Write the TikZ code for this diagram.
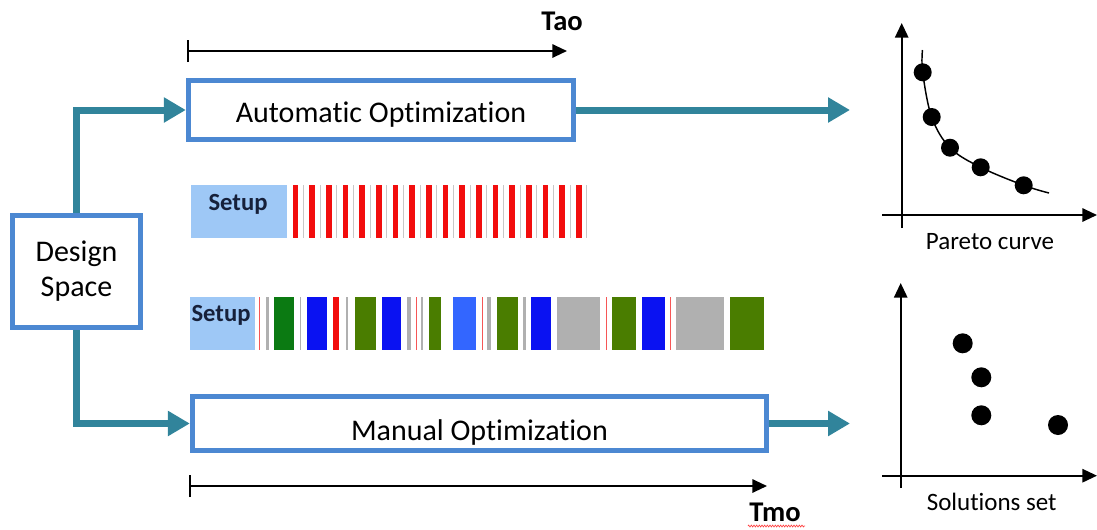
\documentclass[tikz,border=0pt]{standalone}
\usepackage{fontspec}
\setmainfont[Ligatures=NoCommon]{Carlito}
\usetikzlibrary{arrows.meta, positioning, calc, decorations.pathmorphing}
\definecolor{flowteal}{HTML}{31849B}
\definecolor{boxblue}{HTML}{4C88D2}
\definecolor{setupblue}{HTML}{9EC8F6}
\definecolor{setupink}{HTML}{16203A}
\definecolor{runred}{HTML}{F20D0D}
\definecolor{rungreen}{HTML}{0B7A12}
\definecolor{runolive}{HTML}{4A7D00}
\definecolor{runblue}{HTML}{0A12F2}
\definecolor{runsky}{HTML}{3366FF}
\definecolor{rungray}{HTML}{B0B0B0}
\tikzset{
    optbox/.style={rectangle, draw=boxblue, line width=4pt, fill=white, inner sep=2pt, font=\fontsize{22.5}{27}\selectfont},
    setupbar/.style={rectangle, fill=setupblue, inner sep=0pt, anchor=north west},
    setuptext/.style={font=\bfseries\fontsize{18.5}{22}\selectfont, text=setupink, anchor=base, inner sep=0pt},
    timetext/.style={font=\bfseries\fontsize{21.4}{25}\selectfont, anchor=base, inner sep=0pt},
    plottext/.style={font=\fontsize{18.75}{22}\selectfont, anchor=base, inner sep=0pt},
    flowarrow/.style={draw=flowteal, line width=5.25pt, -{Triangle[length=16.5pt, width=18pt]}},
    timearrow/.style={line width=1.5pt, {Bar[width=16.5pt]}-{Triangle[length=11pt, width=10pt]}},
    plotaxis/.style={line width=1.5pt, -{Triangle[length=11pt, width=10pt]}}
}

\begin{document}
\begin{tikzpicture}[x=0.75pt, y=-0.75pt]
    \useasboundingbox (0,0) rectangle (1097,529);

    % design space and the two optimization flows
    \node[optbox, minimum width=96pt, minimum height=84pt, align=center, font=\fontsize{22.5}{26.25}\selectfont] (design) at (76.5,271.5) {Design\\Space};
    \node[optbox, minimum width=288.75pt, minimum height=44.25pt, text height=18pt, text depth=0pt] (auto) at (381,110) {Automatic Optimization};
    \node[optbox, minimum width=430.5pt, minimum height=40.5pt, text height=24.75pt, text depth=0pt] (manual) at (479.5,423.5) {Manual Optimization};
    \coordinate (paretoIn) at (850,110);
    \coordinate (solIn) at (850,423.5);

    \draw[flowarrow] (design.north) |- (auto.west);
    \draw[flowarrow] (design.south) |- (manual.west);
    \draw[flowarrow] (auto.east) -- (paretoIn);
    \draw[flowarrow] (manual.east) -- (solIn);

    % time axes
    \draw[timearrow] (187,51) -- (567,51);
    \node[timetext] (tao) at (562,30) {Tao};
    \draw[timearrow] (189,486) -- (767,486);
    \node[timetext] (tmo) at (775,521) {Tmo};
    \draw[red!75, line width=0.5pt, decorate, decoration={zigzag, segment length=2pt, amplitude=0.7pt}] (748,526) -- (805,526);

    % automatic runs
    \node[setupbar, minimum width=72pt, minimum height=39.75pt] (setupA) at (191,185) {};
    \node[setuptext] (setupAlbl) at (238,210) {Setup};
    \foreach \k in {0,...,17}{
        \fill[runred] ({292.7+16.67*\k},185) rectangle ++(5.7,53);
        \draw[rungray!70, line width=0.6pt] ({303.3+16.67*\k},185) -- ++(0,53);
    }

    % manual runs
    \node[setupbar, minimum width=48.75pt, minimum height=39.75pt] (setupB) at (190,297) {};
    \node[setuptext] (setupBlbl) at (221,321) {Setup};
    \foreach \xa/\xb/\col in {266/269/rungray, 274/294/rungreen, 307/327/runblue, 333/339/runred,
        354.5/376/runolive, 382/401/runblue, 407/411/rungray, 429/441/runolive, 452.5/476/runsky,
        487/491/rungray, 497/517.5/runolive, 523/526/rungray, 530.5/550.5/runblue, 556.6/600/rungray,
        611.7/636/runolive, 641.5/665/runblue, 676/724/rungray, 729.5/763.6/runolive}
        \fill[\col] (\xa,297) rectangle (\xb,350);
    \foreach \xa in {259.6, 416.5, 482, 606, 670}
        \draw[runred!70, line width=0.75pt] (\xa,297) -- (\xa,350);
    \foreach \xa in {300.5, 347, 422}
        \draw[rungray, line width=1.1pt] (\xa,297) -- (\xa,350);

    % pareto curve
    \draw[plotaxis] (901.7,228) -- (901.7,23);
    \draw[plotaxis] (882,215) -- (1097,215);
    \draw[line width=1.1pt] plot[smooth, tension=0.6] coordinates {(922.5,50) (922.7,72.3) (931.7,117) (950,147.7) (980.7,167.3) (1023.7,185.3) (1049,193)};
    \foreach \p in {(922.7,72.3), (931.7,117), (950,147.7), (980.7,167.3), (1023.7,185.3)}
        \fill \p circle[radius=6.75pt];
    \node[plottext] (paretoLbl) at (990,249) {Pareto curve};

    % solutions set
    \draw[plotaxis] (900.7,488) -- (900.7,283);
    \draw[plotaxis] (882,475.7) -- (1097,475.7);
    \foreach \p in {(962.7,343.3), (981.3,377.3), (981.3,415.3), (1058,425)}
        \fill \p circle[radius=7.5pt];
    \node[plottext] (solLbl) at (991.7,510) {Solutions set};
\end{tikzpicture}
\end{document}
